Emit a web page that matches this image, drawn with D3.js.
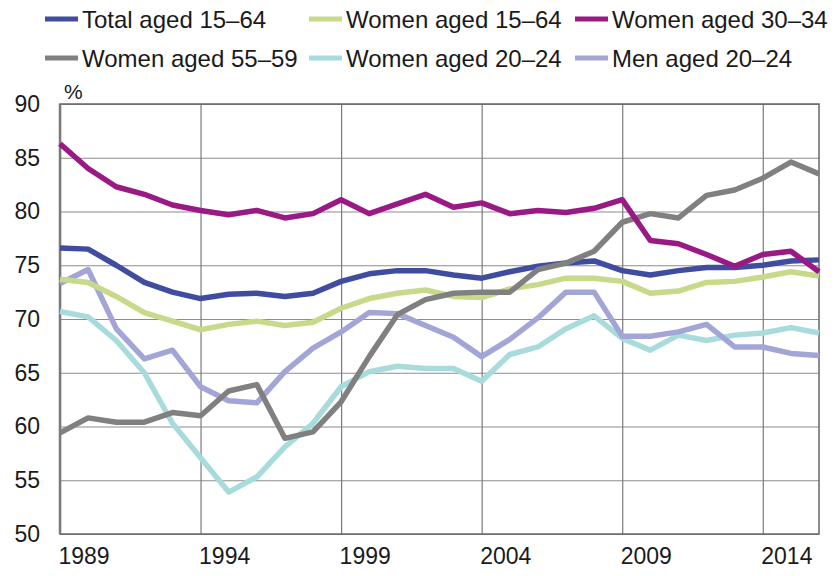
<!DOCTYPE html>
<html>
<head>
<meta charset="utf-8">
<script src="https://cdn.jsdelivr.net/npm/d3@7"></script>
<style>
  body { margin: 0; background: #fff; }
  text { font-family: "Liberation Sans", Arial, sans-serif; fill: #1a1a1a; }
</style>
</head>
<body>
<svg id="chart"></svg>
<script>
// employment rates, %, 1989-2016
var years = d3.range(1989, 2017);
var total1564 = [76.6,76.5,75.0,73.4,72.5,71.9,72.3,72.4,72.1,72.4, 73.5,74.2,74.5,74.5,74.1,73.8,74.4,74.9,75.2,75.4, 74.5,74.1,74.5,74.8,74.8,75.0,75.4,75.5];
var women1564 = [73.7,73.4,72.1,70.6,69.8,69.0,69.5,69.8,69.4,69.7, 71.0,71.9,72.4,72.7,72.1,72.0,72.8,73.2,73.8,73.8, 73.5,72.4,72.6,73.4,73.5,73.9,74.4,74.0];
var women3034 = [86.3,84.0,82.3,81.6,80.6,80.1,79.7,80.1,79.4,79.8, 81.1,79.8,80.7,81.6,80.4,80.8,79.8,80.1,79.9,80.3, 81.1,77.3,77.0,76.0,74.9,76.0,76.3,74.4];
var women5559 = [59.4,60.8,60.4,60.4,61.3,61.0,63.3,63.9,58.9,59.5, 62.3,66.5,70.4,71.8,72.4,72.5,72.5,74.6,75.2,76.3, 79.0,79.8,79.4,81.5,82.0,83.1,84.6,83.5];
var women2024 = [70.7,70.2,68.0,65.0,60.3,57.1,53.9,55.3,58.1,60.3, 63.7,65.1,65.6,65.4,65.4,64.2,66.7,67.4,69.1,70.3, 68.2,67.1,68.5,68.0,68.5,68.7,69.2,68.7];
var men2024 = [73.3,74.6,69.1,66.3,67.1,63.7,62.4,62.2,65.1,67.3, 68.8,70.6,70.5,69.4,68.3,66.5,68.1,70.1,72.5,72.5, 68.4,68.4,68.8,69.5,67.4,67.4,66.8,66.6];

var seriesNames = ["Total aged 15\u201364","Women aged 15\u201364","Women aged 30\u201334",
                   "Women aged 55\u201359","Women aged 20\u201324","Men aged 20\u201324"];
var seriesValues = [total1564, women1564, women3034, women5559, women2024, men2024];
var seriesColors = ["#3f4ca0","#c7da8a","#9a1a85","#808080","#a8dcdc","#a3a5d7"];
var xTicks = [1989,1994,1999,2004,2009,2014];
var yTicks = [50,55,60,65,70,75,80,85,90];

var W = 835, H = 576;
var margins = {top:104, bottom:42, left:60, right:16};

var svg = d3.select("#chart").attr("width",W).attr("height",H);

var xScale = d3.scaleLinear().domain([1989,2016]).range([margins.left, W-margins.right]);
var yScale = d3.scaleLinear().domain([50,90]).range([H-margins.bottom, margins.top]);

// horizontal gridlines + y labels
svg.append("g")
  .attr("transform","translate("+margins.left+",0)")
  .call(d3.axisLeft(yScale).tickValues(yTicks).tickSize(-(W-margins.left-margins.right)).tickPadding(20))
  .call(function(g){
    g.select(".domain").remove();
    g.selectAll(".tick line").attr("stroke","#8c8c8c").attr("stroke-width",1.2);
    g.selectAll(".tick text").attr("font-size","23px").attr("fill","#1a1a1a")
      .attr("font-family","'Liberation Sans', Arial, sans-serif");
  });

// vertical gridlines + x labels
svg.append("g")
  .attr("transform","translate(0,"+(H-margins.bottom)+")")
  .call(d3.axisBottom(xScale).tickValues(xTicks).tickSize(-(H-margins.top-margins.bottom)).tickPadding(14).tickFormat(d3.format("d")))
  .call(function(g){
    g.select(".domain").remove();
    g.selectAll(".tick line").attr("stroke","#7a7a7a").attr("stroke-width",1.2);
    g.selectAll(".tick text").attr("font-size","23px").attr("fill","#1a1a1a")
      .attr("text-anchor","start").attr("x",-2)
      .attr("font-family","'Liberation Sans', Arial, sans-serif");
  });

// frame
svg.append("rect")
  .attr("x",margins.left).attr("y",margins.top)
  .attr("width",W-margins.left-margins.right)
  .attr("height",H-margins.top-margins.bottom)
  .attr("fill","none").attr("stroke","#666").attr("stroke-width",1.5);
svg.append("line")
  .attr("x1",margins.left).attr("x2",margins.left)
  .attr("y1",margins.top).attr("y2",H-margins.bottom)
  .attr("stroke","#7a7a7a").attr("stroke-width",2.5);

svg.append("text").attr("x",64).attr("y",99).attr("font-size","21px").text("%");

var line = d3.line()
  .x(function(d,i){ return xScale(years[i]); })
  .y(function(d){ return yScale(d); });

// draw order so the gray/purple sit on top like the original
var order = [4,5,1,0,3,2];
svg.append("g").selectAll("path")
  .data(order)
  .enter()
  .append("path")
  .attr("d",function(k){ return line(seriesValues[k]); })
  .attr("fill","none")
  .attr("stroke",function(k){ return seriesColors[k]; })
  .attr("stroke-width",5.5)
  .attr("stroke-linejoin","round");

// legend
var legX = [45,309,575];
var legY = [19,58];
var legend = svg.append("g");
var items = legend.selectAll("g")
  .data(seriesNames)
  .enter()
  .append("g")
  .attr("transform",function(d,i){ return "translate("+legX[i%3]+","+legY[Math.floor(i/3)]+")"; });
items.append("line")
  .attr("x1",0).attr("x2",33).attr("y1",0).attr("y2",0)
  .attr("stroke",function(d,i){ return seriesColors[i]; })
  .attr("stroke-width",5);
items.append("text")
  .attr("x",37).attr("y",9)
  .attr("font-size","24px")
  .text(function(d){ return d; });
</script>
</body>
</html>
